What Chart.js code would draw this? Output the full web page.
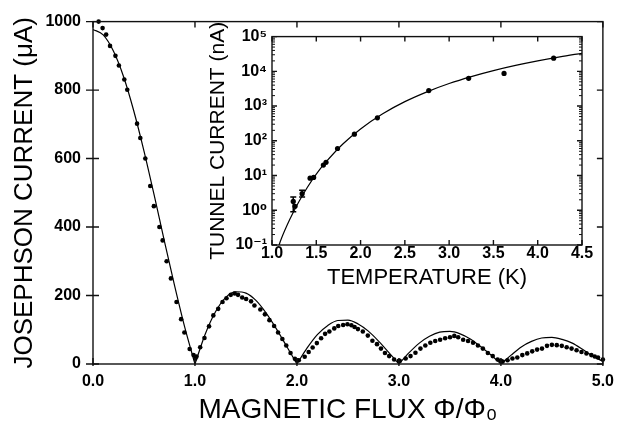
<!DOCTYPE html>
<html lang="en">
  <head>
    <meta charset="UTF-8" />
    <title>Josephson current vs magnetic flux</title>
    <script src="https://cdn.jsdelivr.net/npm/chart.js"></script>
    <style>
      body { margin: 0; background: #fff; }
      .quadro { position: relative; width: 622px; height: 432px; }
      #principal { position: absolute; left: 0; top: 0; }
      #inset { position: absolute; left: 200px; top: 22px; }
    </style>
  </head>
  <body>
    <div class="quadro">
      <canvas id="principal" width="622" height="432"></canvas>
      <canvas id="inset" width="400" height="270"></canvas>
    </div>

    <script>
      // --- main panel: measured Ic (uA) vs flux (phi/phi0)
      const fluxX = [
        0.055, 0.094, 0.129, 0.167, 0.22, 0.254, 0.307, 0.336, 0.432, 0.464, 0.513, 0.561, 0.597, 0.651,
        0.683, 0.722, 0.764, 0.819, 0.864, 0.896, 0.948, 0.986, 1.003, 1.015,
        1.051, 1.093, 1.138, 1.18, 1.228, 1.27, 1.309, 1.351, 1.39, 1.422, 1.463, 1.502, 1.55, 1.583,
        1.641, 1.686, 1.73, 1.776, 1.815, 1.857, 1.895, 1.937, 1.98, 2.0,
        2.018, 2.076, 2.115, 2.154, 2.195, 2.237, 2.276, 2.318, 2.366, 2.405, 2.453, 2.495, 2.534, 2.565,
        2.598, 2.646, 2.695, 2.74, 2.785, 2.824, 2.863, 2.904, 2.953, 3.0,
        3.008, 3.066, 3.114, 3.162, 3.211, 3.259, 3.308, 3.356, 3.404, 3.453, 3.501, 3.543, 3.581, 3.63,
        3.678, 3.727, 3.775, 3.823, 3.872, 3.92, 3.968, 4.0,
        4.017, 4.065, 4.113, 4.161, 4.21, 4.258, 4.307, 4.355, 4.403, 4.452, 4.5, 4.548, 4.597, 4.645,
        4.693, 4.742, 4.79, 4.839, 4.887, 4.92, 4.952, 5.0
      ];
      const currentY = [
        1000, 981, 962, 929, 900, 872, 831, 801, 702, 660, 600, 520, 461, 400,
        361, 300, 250, 181, 131, 92, 44, 26, 16, 22,
        49, 76, 110, 142, 161, 181, 192, 202, 206, 202, 194, 190, 183, 171,
        159, 145, 128, 111, 92, 73, 54, 32, 15, 11,
        11, 21, 35, 48, 61, 75, 88, 95, 104, 111, 114, 116, 113, 108,
        102, 95, 83, 68, 58, 45, 32, 23, 13, 9,
        9, 16, 23, 33, 45, 54, 62, 67, 71, 75, 78, 82, 78, 71,
        67, 62, 54, 45, 32, 23, 13, 9,
        7, 11, 16, 19, 26, 31, 37, 42, 45, 53, 56, 55, 53, 49,
        45, 40, 35, 31, 26, 22, 19, 13
      ];

      // --- main panel: fitted curve
      const fitX = [
        0, 0.1, 0.2, 0.3, 0.4, 0.5, 0.6, 0.7, 0.8, 0.9, 1.0,
        1.1, 1.2, 1.3, 1.4, 1.5, 1.6, 1.7, 1.8, 1.9, 2.0,
        2.1, 2.2, 2.3, 2.4, 2.5, 2.6, 2.7, 2.8, 2.9, 3.0,
        3.1, 3.2, 3.3, 3.4, 3.5, 3.6, 3.7, 3.8, 3.9, 4.0,
        4.1, 4.2, 4.3, 4.4, 4.5, 4.6, 4.7, 4.8, 4.9, 5.0
      ];
      const fitY = [
        977, 961, 914, 839, 739, 622, 493, 359, 229, 107, 0,
        87, 152, 194, 211, 207, 185, 148, 102, 51, 0,
        47, 86, 112, 127, 128, 117, 96, 67, 34, 0,
        33, 61, 81, 93, 95, 88, 73, 51, 27, 0,
        26, 50, 66, 76, 78, 72, 61, 43, 23, 8
      ];
      const fluxTicks = ["0.0", "1.0", "2.0", "3.0", "4.0", "5.0"];
      const currentTicks = [0, 200, 400, 600, 800, 1000];

      // --- inset: tunnel current (nA) vs temperature (K)
      const tempK = [1.24, 1.26, 1.34, 1.43, 1.47, 1.58, 1.61, 1.74, 1.93, 2.19, 2.77, 3.22, 3.62, 4.18];
      const tunnelNA = [1.8, 1.3, 3.0, 8.4, 8.8, 20, 24, 60, 155, 460, 2800, 6300, 8700, 24000];
      const errT = [1.24, 1.34];
      const errLo = [0.9, 2.4];
      const errHi = [2.4, 3.8];
      const curveT = [1.08, 1.1, 1.2, 1.3, 1.4, 1.5, 1.6, 1.8, 2.0, 2.25, 2.5, 2.75, 3.0, 3.25, 3.5, 3.75, 4.0, 4.25, 4.5];
      const curveNA = [0.1, 0.14, 0.54, 1.7, 4.6, 11, 23, 81, 220, 600, 1340, 2570, 4450, 7050, 10500, 14800, 20000, 26100, 33100];
      const tempTicks = ["1.0", "1.5", "2.0", "2.5", "3.0", "3.5", "4.0", "4.5"];
      const decadeVals = [0.1, 1, 10, 100, 1000, 10000, 100000];
      const decadeTicks = ["10⁻¹", "10⁰", "10¹", "10²", "10³", "10⁴", "10⁵"];

      Chart.defaults.color = "#000";
      Chart.defaults.font.family = "'Liberation Sans', 'DejaVu Sans', sans-serif";

      const fonteTick = { size: 16, weight: "bold" };

      // frame + inward tick marks (the library only draws outward ticks)
      const moldura = {
        id: "moldura",
        afterDatasetsDraw(chart, args, o) {
          const { ctx, chartArea: a } = chart;
          const xs = chart.scales.x;
          const ys = chart.scales.y;
          ctx.save();
          ctx.strokeStyle = "#111";
          ctx.lineWidth = 1.4;
          ctx.strokeRect(a.left, a.top, a.width, a.height);
          ctx.beginPath();
          xs.ticks.forEach((t) => {
            const px = xs.getPixelForValue(t.value);
            ctx.moveTo(px, a.bottom + o.xOut);
            ctx.lineTo(px, a.bottom - o.inLen);
            ctx.moveTo(px, a.top);
            ctx.lineTo(px, a.top + o.inLen);
          });
          ys.ticks.forEach((t) => {
            const py = ys.getPixelForValue(t.value);
            ctx.moveTo(a.left - o.yOut, py);
            ctx.lineTo(a.left + o.inLen, py);
            ctx.moveTo(a.right, py);
            ctx.lineTo(a.right - o.inLen, py);
          });
          ctx.stroke();
          if (o.minor) {
            ctx.lineWidth = 1;
            ctx.beginPath();
            decadeVals.slice(0, -1).forEach((d) => {
              for (let k = 2; k <= 9; k++) {
                const py = ys.getPixelForValue(d * k);
                ctx.moveTo(a.left, py);
                ctx.lineTo(a.left + 3, py);
                ctx.moveTo(a.right, py);
                ctx.lineTo(a.right - 3, py);
              }
            });
            ctx.stroke();
          }
          ctx.restore();
        },
      };

      // vertical error bars on the inset
      const barras = {
        id: "barras",
        afterDatasetsDraw(chart) {
          const { ctx } = chart;
          const xs = chart.scales.x;
          const ys = chart.scales.y;
          ctx.save();
          ctx.strokeStyle = "#000";
          ctx.lineWidth = 1.5;
          ctx.beginPath();
          errT.forEach((t, i) => {
            const px = xs.getPixelForValue(t);
            const p1 = ys.getPixelForValue(errLo[i]);
            const p2 = ys.getPixelForValue(errHi[i]);
            ctx.moveTo(px, p1);
            ctx.lineTo(px, p2);
            ctx.moveTo(px - 3, p1);
            ctx.lineTo(px + 3, p1);
            ctx.moveTo(px - 3, p2);
            ctx.lineTo(px + 3, p2);
          });
          ctx.stroke();
          ctx.restore();
        },
      };

      function montarPrincipal() {
        const pontos = fluxX.map((x, i) => ({ x: x, y: currentY[i] }));
        // break the curve at each zero so the cusps stay sharp
        const curva = [];
        fitX.forEach((x, i) => {
          curva.push({ x: x, y: fitY[i] });
          if (fitY[i] === 0 && i > 0 && i < fitX.length - 1) {
            curva.push({ x: x, y: null });
            curva.push({ x: x, y: 0 });
          }
        });

        new Chart(document.getElementById("principal"), {
          type: "scatter",
          data: {
            datasets: [
              {
                data: pontos,
                pointRadius: 2.3,
                pointBackgroundColor: "#000",
                pointBorderWidth: 0,
                showLine: false,
                clip: 6,
              },
              {
                data: curva,
                showLine: true,
                borderColor: "#000",
                borderWidth: 1.2,
                pointRadius: 0,
                cubicInterpolationMode: "monotone",
                spanGaps: false,
              },
            ],
          },
          options: {
            responsive: false,
            animation: false,
            layout: { padding: { left: 0, right: 14, top: 14, bottom: 0 } },
            plugins: {
              legend: { display: false },
              tooltip: { enabled: false },
              moldura: { xOut: 2, yOut: 7, inLen: 6 },
            },
            scales: {
              x: {
                type: "linear",
                min: 0,
                max: 5,
                afterFit: (s) => { s.height = 68; },
                afterBuildTicks: (s) => { s.ticks = fluxTicks.map((l, i) => ({ value: i })); },
                grid: { display: false, drawTicks: false },
                border: { display: false },
                ticks: {
                  padding: 8,
                  maxRotation: 0,
                  autoSkip: false,
                  font: fonteTick,
                  callback: (v, i) => fluxTicks[i],
                },
                title: {
                  display: true,
                  text: "MAGNETIC FLUX Φ/Φ₀",
                  font: { size: 28 },
                  padding: { top: 0, bottom: 5 },
                },
              },
              y: {
                min: 0,
                max: 1000,
                afterFit: (s) => { s.width = 93; },
                afterBuildTicks: (s) => { s.ticks = currentTicks.map((v) => ({ value: v })); },
                grid: { display: false, drawTicks: false },
                border: { display: false },
                ticks: { padding: 12, font: fonteTick, callback: (v) => String(v) },
                title: {
                  display: true,
                  text: "JOSEPHSON CURRENT (μA)",
                  font: { size: 26 },
                  padding: { top: 9, bottom: 0 },
                },
              },
            },
          },
          plugins: [moldura],
        });
      }

      function montarInset() {
        new Chart(document.getElementById("inset"), {
          type: "scatter",
          data: {
            datasets: [
              {
                data: tempK.map((t, i) => ({ x: t, y: tunnelNA[i] })),
                pointRadius: 2.6,
                pointBackgroundColor: "#000",
                pointBorderWidth: 0,
                showLine: false,
              },
              {
                data: curveT.map((t, i) => ({ x: t, y: curveNA[i] })),
                showLine: true,
                borderColor: "#000",
                borderWidth: 1.2,
                pointRadius: 0,
                cubicInterpolationMode: "monotone",
              },
            ],
          },
          options: {
            responsive: false,
            animation: false,
            layout: { padding: { left: 0, right: 18, top: 12, bottom: 0 } },
            plugins: {
              legend: { display: false },
              tooltip: { enabled: false },
              moldura: { xOut: 0, yOut: 0, inLen: 5, minor: true },
            },
            scales: {
              x: {
                type: "linear",
                min: 1,
                max: 4.5,
                afterFit: (s) => { s.height = 47; },
                afterBuildTicks: (s) => { s.ticks = tempTicks.map((l) => ({ value: Number(l) })); },
                grid: { display: false, drawTicks: false },
                border: { display: false },
                ticks: {
                  padding: -1,
                  maxRotation: 0,
                  autoSkip: false,
                  font: fonteTick,
                  callback: (v, i) => tempTicks[i],
                },
                title: {
                  display: true,
                  text: "TEMPERATURE (K)",
                  font: { size: 22 },
                  padding: { top: 0, bottom: 1 },
                },
              },
              y: {
                type: "logarithmic",
                min: 0.1,
                max: 100000,
                afterFit: (s) => { s.width = 72; },
                afterBuildTicks: (s) => { s.ticks = decadeVals.map((v) => ({ value: v })); },
                grid: { display: false, drawTicks: false },
                border: { display: false },
                ticks: { padding: 5, autoSkip: false, font: fonteTick, callback: (v, i) => decadeTicks[i] },
                title: {
                  display: true,
                  text: "TUNNEL CURRENT (nA)",
                  font: { size: 21 },
                  padding: { top: 6, bottom: 0 },
                },
              },
            },
          },
          plugins: [moldura, barras],
        });
      }

      montarPrincipal();
      montarInset();
    </script>
  </body>
</html>
